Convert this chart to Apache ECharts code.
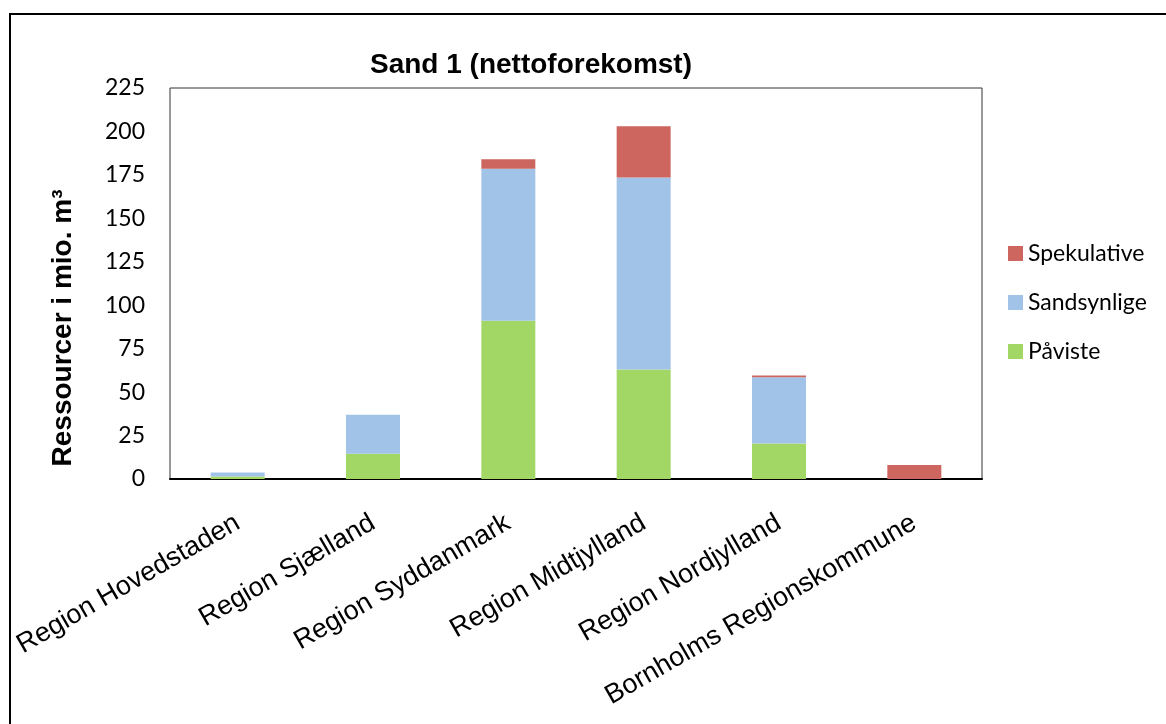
<!DOCTYPE html>
<html>
<head>
<meta charset="utf-8">
<script src="https://cdn.jsdelivr.net/npm/echarts@6/dist/echarts.min.js"></script>
<style>
  html, body { margin: 0; padding: 0; background: #fff; }
  #chart { width: 1166px; height: 724px; }
</style>
</head>
<body>
<div id="chart"></div>
<script>
// data (mio. m3)
var regions = ['Region Hovedstaden', 'Region Sjælland', 'Region Syddanmark',
    'Region Midtjylland', 'Region Nordjylland', 'Bornholms Regionskommune'];
var paviste = [1.5, 14.5, 91, 63, 20.5, 0];
var sandsynlige = [2.2, 22.5, 87.5, 110.5, 38, 0];
var spekulative = [0, 0, 5.5, 29.5, 1, 8];
var legendOrder = ['Spekulative', 'Sandsynlige', 'Påviste'];

var chart = echarts.init(document.getElementById('chart'));

var option = {
    animation: false,
    backgroundColor: '#fff',
    title: {
        text: 'Sand 1 (nettoforekomst)',
        left: 526,
        textAlign: 'center',
        top: 46,
        textStyle: {fontFamily: 'Liberation Sans', fontSize: 28, fontWeight: 'bold', color: '#000'}
    },
    legend: {
        data: legendOrder,
        orient: 'vertical',
        left: 1003,
        top: 236,
        itemWidth: 15,
        itemHeight: 15,
        itemGap: 24,
        icon: 'rect',
        textStyle: {fontFamily: 'Lato', fontSize: 23, lineHeight: 25, color: '#000'}
    },
    grid: {
        left: 170,
        right: 184,
        top: 88,
        bottom: 245,
        show: true,
        borderColor: '#333',
        borderWidth: 1
    },
    xAxis: {
        type: 'category',
        data: regions,
        axisLine: {lineStyle: {color: '#000', width: 2}},
        axisTick: {show: false},
        axisLabel: {
            rotate: 30,
            interval: 0,
            margin: 42,
            fontFamily: 'Liberation Sans',
            fontSize: 27,
            color: '#000'
        }
    },
    yAxis: {
        type: 'value',
        min: 0,
        max: 225,
        interval: 25,
        axisLine: {show: false},
        axisTick: {show: false},
        splitLine: {show: false},
        axisLabel: {margin: 25, fontFamily: 'Lato', fontSize: 23, color: '#000'}
    },
    graphic: [
        {
            type: 'rect',
            shape: {x: 10, y: 14, width: 1300, height: 900},
            style: {fill: 'none', stroke: '#000', lineWidth: 2},
            silent: true
        },
        {
            type: 'text',
            x: 63,
            y: 328,
            rotation: Math.PI / 2,
            style: {
                text: 'Ressourcer i mio. m³',
                font: 'bold 28px "Liberation Sans"',
                fill: '#000',
                textAlign: 'center',
                textVerticalAlign: 'middle'
            }
        }
    ],
    series: [
        {name: 'Påviste', type: 'bar', stack: 'sand', barWidth: 54, data: paviste,
            itemStyle: {color: '#a2d665'}},
        {name: 'Sandsynlige', type: 'bar', stack: 'sand', data: sandsynlige,
            itemStyle: {color: '#a1c3e7'}},
        {name: 'Spekulative', type: 'bar', stack: 'sand', data: spekulative,
            itemStyle: {color: '#cd665f'}}
    ]
};

chart.setOption(option);
</script>
</body>
</html>
